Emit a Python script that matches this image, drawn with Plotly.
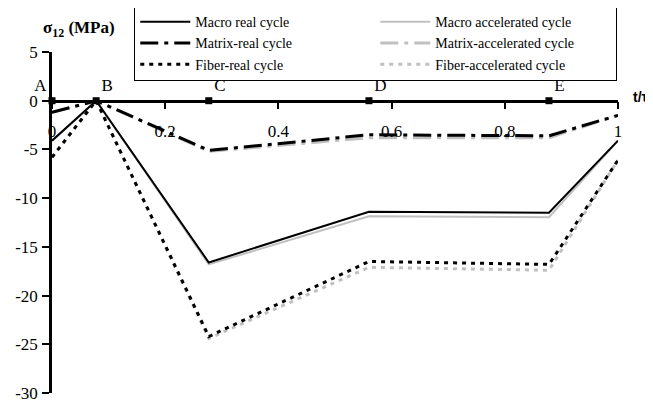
import plotly.graph_objects as go

# time fractions t/tau at the stage points
t = [0.0, 0.078, 0.277, 0.56, 0.878, 1.0]

macro_real = [-4.1, 0.0, -16.6, -11.4, -11.5, -4.1]
macro_acc = [-4.1, 0.0, -16.8, -11.85, -11.95, -4.1]
matrix_real = [-1.2, 0.0, -5.1, -3.5, -3.6, -1.5]
matrix_acc = [-1.2, 0.0, -5.2, -3.8, -3.8, -1.5]
fiber_real = [-5.8, 0.0, -24.2, -16.5, -16.8, -6.1]
fiber_acc = [-5.8, 0.0, -24.4, -17.1, -17.4, -6.1]

stage_t = [0.0, 0.078, 0.277, 0.56, 0.878]
stage_labels = ["A", "B", "C", "D", "E"]

x_tickvals = [0, 0.2, 0.4, 0.6, 0.8, 1]
x_ticktext = ["0", "0.2", "0.4", "0.6", "0.8", "1"]
y_tickvals = [5, 0, -5, -10, -15, -20, -25, -30]
y_ticktext = ["5", "0", "-5", "-10", "-15", "-20", "-25", "-30"]

FONT = "Liberation Serif"
GRAY = "#c0c0c0"

fig = go.Figure()

series = [
    ("Macro real cycle", macro_real, "black", "solid", 2, 1),
    ("Macro accelerated cycle", macro_acc, GRAY, "solid", 2, 2),
    ("Matrix-real cycle", matrix_real, "black", "18px,6px,4px,6px", 3, 3),
    ("Matrix-accelerated cycle", matrix_acc, GRAY, "18px,6px,4px,6px", 3, 4),
    ("Fiber-real cycle", fiber_real, "black", "4px,5px", 3, 5),
    ("Fiber-accelerated cycle", fiber_acc, GRAY, "4px,5px", 3, 6),
]
# draw gray (accelerated) first, real on top; legend order via legendrank
order = [1, 3, 5, 0, 2, 4]
for i in order:
    name, vals, col, dash, w, rank = series[i]
    fig.add_trace(go.Scatter(
        x=t, y=vals, mode="lines", name=name, legendrank=rank,
        line=dict(color=col, dash=dash, width=w),
    ))

positions = ["top left", "top right", "top right", "top right", "top right"]
fig.add_trace(go.Scatter(
    x=stage_t, y=[0] * len(stage_t), mode="markers+text",
    text=stage_labels, textposition=positions,
    textfont=dict(family=FONT, size=17, color="black"),
    marker=dict(symbol="square", size=7, color="black"),
    showlegend=False, cliponaxis=False,
))

# page has an 8px body margin: figure is 645x393 so it fills the 653x401 window
fig.update_layout(
    width=645, height=393,
    margin=dict(l=44, r=35, t=44, b=8, autoexpand=False),
    paper_bgcolor="white", plot_bgcolor="white",
    font=dict(family=FONT, size=17, color="black"),
    showlegend=True,
    legend=dict(
        orientation="h", x=0.145, y=1.138, xanchor="left", yanchor="top",
        entrywidth=175, entrywidthmode="pixels",
        bordercolor="black", borderwidth=1.2, bgcolor="rgba(255,255,255,0)",
        font=dict(family=FONT, size=14, color="black"),
        tracegroupgap=0, itemwidth=50,
    ),
    xaxis=dict(
        range=[0, 1], anchor="free", position=30 / 35,
        tickvals=x_tickvals, ticktext=x_ticktext,
        ticks="outside", ticklen=7, tickwidth=2, tickcolor="black",
        showline=True, linewidth=2.5, linecolor="black",
        showgrid=False, zeroline=False, ticklabelstandoff=7,
        tickfont=dict(family=FONT, size=17),
    ),
    yaxis=dict(
        range=[-30, 5], tickvals=y_tickvals, ticktext=y_ticktext,
        ticks="outside", ticklen=7, tickwidth=2, tickcolor="black",
        showline=True, linewidth=2.5, linecolor="black",
        showgrid=False, zeroline=False, ticklabelstandoff=1,
        ticklabeloverflow="allow",
        tickfont=dict(family=FONT, size=17),
    ),
    annotations=[
        dict(text="<b>σ<sub>12</sub> (MPa)</b>", xref="paper", yref="paper",
             x=0.048, y=1.067, xanchor="center", yanchor="middle",
             showarrow=False, font=dict(family=FONT, size=17)),
        dict(text="<b>t/τ</b>", xref="paper", yref="y",
             x=1.058, y=0.4, xanchor="right", yanchor="middle",
             showarrow=False, font=dict(family="Liberation Sans", size=14)),
    ],
)

fig.write_html("out.html")
